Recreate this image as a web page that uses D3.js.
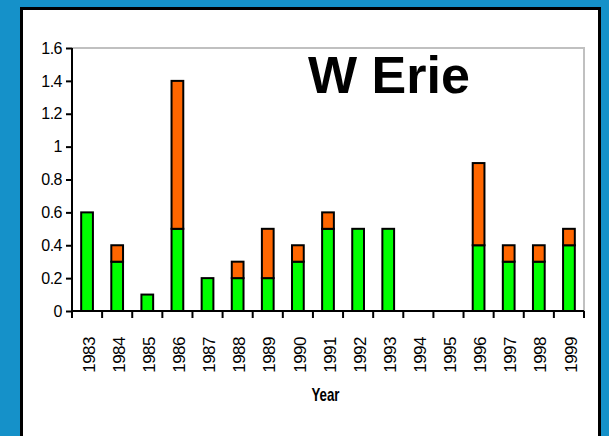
<!DOCTYPE html>
<html>
<head>
<meta charset="utf-8">
<script src="https://cdn.jsdelivr.net/npm/d3@7"></script>
<style>
  html, body { margin: 0; padding: 0; background: #1591c9; }
  svg { display: block; }
  text { font-family: "Liberation Sans", Arial, sans-serif; }
</style>
</head>
<body>
<div id="chart"></div>
<script>
// data
const years = ['1983', '1984', '1985', '1986', '1987', '1988', '1989', '1990', '1991',
  '1992', '1993', '1994', '1995', '1996', '1997', '1998', '1999'];
const greenValues = [0.6, 0.3, 0.1, 0.5, 0.2, 0.2, 0.2, 0.3, 0.5, 0.5, 0.5, 0, 0, 0.4, 0.3, 0.3, 0.4];
const orangeValues = [0, 0.1, 0, 0.9, 0, 0.1, 0.3, 0.1, 0.1, 0, 0, 0, 0, 0.5, 0.1, 0.1, 0.1];
const yTicks = [0, 0.2, 0.4, 0.6, 0.8, 1, 1.2, 1.4, 1.6];
const seriesKeys = ['green', 'orange'];
const seriesColors = ['#00ff00', '#ff6600'];
const title = 'W Erie';
const xTitle = 'Year';

// dimensions
const WIDTH = 609;
const HEIGHT = 436;
const PLOT_LEFT = 72;
const PLOT_RIGHT = 584;
const PLOT_TOP = 48;
const PLOT_BOTTOM = 311;

const rows = years.map((year, i) => ({ year, green: greenValues[i], orange: orangeValues[i] }));
const stacked = d3.stack().keys(seriesKeys)(rows);

const $svg = d3.select('#chart').append('svg')
  .attr('width', WIDTH)
  .attr('height', HEIGHT);

// white panel with black border
$svg.append('rect')
  .attr('x', 21.5)
  .attr('y', 8.5)
  .attr('width', 578)
  .attr('height', 460)
  .attr('fill', '#fff')
  .attr('stroke', '#000')
  .attr('stroke-width', 3);

// scales
const scaleX = d3.scaleBand().domain(years).range([PLOT_LEFT, PLOT_RIGHT]).padding(0);
const scaleY = d3.scaleLinear().domain([0, 1.6]).range([PLOT_BOTTOM, PLOT_TOP]);
const color = d3.scaleOrdinal().domain(seriesKeys).range(seriesColors);

// grey frame top + right
$svg.append('path')
  .attr('d', `M${PLOT_LEFT},${scaleY(1.6)}H${PLOT_RIGHT}V${PLOT_BOTTOM}`)
  .attr('fill', 'none')
  .attr('stroke', '#c0c0c0')
  .attr('stroke-width', 2);

// bars
const barW = scaleX.bandwidth() * 0.39;
$svg.append('g').attr('class', 'g-vis')
  .selectAll('g')
  .data(stacked)
  .join('g')
  .attr('fill', (d) => color(d.key))
  .selectAll('rect')
  .data((d) => d.filter((s) => s[1] - s[0] > 0))
  .join('rect')
  .attr('x', (d) => scaleX(d.data.year) + scaleX.bandwidth() / 2 - barW / 2)
  .attr('width', barW)
  .attr('y', (d) => scaleY(d[1]))
  .attr('height', (d) => scaleY(d[0]) - scaleY(d[1]))
  .attr('stroke', '#000')
  .attr('stroke-width', 2);

// y axis
const $yAxis = $svg.append('g')
  .attr('transform', `translate(${PLOT_LEFT},0)`)
  .call(d3.axisLeft(scaleY).tickValues(yTicks).tickSize(6).tickPadding(4).tickFormat(d3.format('')));
$yAxis.select('.domain').attr('stroke-width', 2).attr('d', `M0,${PLOT_TOP}V${PLOT_BOTTOM}`);
$yAxis.selectAll('.tick line').attr('stroke-width', 2);
$yAxis.selectAll('.tick text')
  .attr('font-size', 16)
  .attr('fill', '#000')
  .attr('font-family', '"Liberation Sans", Arial, sans-serif')
  .style('letter-spacing', '-0.5px');

// x axis: ticks sit between the years, labels rotated
const $xAxis = $svg.append('g').attr('transform', `translate(0,${PLOT_BOTTOM})`);
$xAxis.append('line')
  .attr('x1', PLOT_LEFT).attr('x2', PLOT_RIGHT)
  .attr('stroke', '#000').attr('stroke-width', 2);
const edges = years.map((y) => scaleX(y)).concat([PLOT_RIGHT]);
$xAxis.selectAll('.x-tick')
  .data(edges)
  .join('line')
  .attr('class', 'x-tick')
  .attr('x1', (d) => d).attr('x2', (d) => d)
  .attr('y1', 0).attr('y2', 7)
  .attr('stroke', '#000').attr('stroke-width', 2);
$xAxis.selectAll('.x-label')
  .data(years)
  .join('text')
  .attr('class', 'x-label')
  .attr('transform', (d) => `translate(${scaleX(d) + scaleX.bandwidth() / 2 + 1.5},26) rotate(-90)`)
  .attr('dy', '0.36em')
  .attr('text-anchor', 'end')
  .attr('font-size', 17)
  .style('letter-spacing', '-0.5px')
  .text((d) => d);

// axis title
$svg.append('text')
  .attr('transform', `translate(${(PLOT_LEFT + PLOT_RIGHT) / 2 - 2.5},401) scale(0.7,1)`)
  .attr('text-anchor', 'middle')
  .attr('font-size', 19)
  .attr('font-weight', 'bold')
  .text(xTitle);

// chart title
$svg.append('text')
  .attr('x', 389)
  .attr('y', 93)
  .attr('text-anchor', 'middle')
  .attr('font-size', 52)
  .attr('font-weight', 'bold')
  .text(title);
</script>
</body>
</html>
